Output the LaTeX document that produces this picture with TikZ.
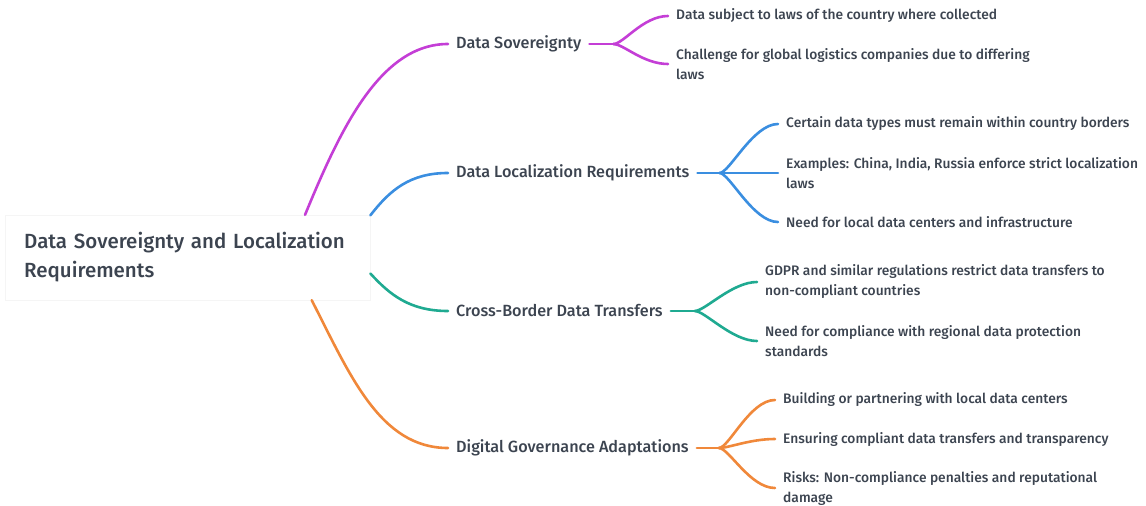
\documentclass[tikz,border=0pt]{standalone}
\usepackage{fontspec}
\setmainfont{Fira Sans}[UprightFont={* Medium}]
\definecolor{txt}{HTML}{3C4450}
\definecolor{cSov}{HTML}{C43ED6}
\definecolor{cLoc}{HTML}{3A8EE0}
\definecolor{cCross}{HTML}{1FAA91}
\definecolor{cDig}{HTML}{F0883A}
\tikzset{
  branch/.style={anchor=west, inner xsep=8pt, inner ysep=0pt, text=txt, font=\fontsize{16.2}{18}\selectfont},
  leaf/.style={anchor=west, inner xsep=8pt, inner ysep=0pt, text=txt, align=left, font=\fontsize{13.8}{20}\selectfont},
  link/.style={line width=2.6pt, line cap=round}
}

\begin{document}
\begin{tikzpicture}[x=1pt,y=-1pt]
  \useasboundingbox (0,0) rectangle (1146,506);
  % root
  \node[draw=gray!8, fill=white, anchor=west, inner xsep=19pt, text width=327pt,
        minimum height=85pt, align=left, text=txt,
        font=\fontsize{20.5}{29}\selectfont] (root) at (5,257.5)
        {Data Sovereignty and Localization\\Requirements};
  % main branches
  \node[branch] (sov) at (448,44) {Data Sovereignty};
  \node[branch] (loc) at (448,173) {Data Localization Requirements};
  \node[branch] (cross) at (448,311) {Cross-Border Data Transfers};
  \node[branch] (dig) at (448,448) {Digital Governance Adaptations};
  \draw[link,cSov] (root.20) .. controls (340,130) and (380,44) .. (sov.west);
  \draw[link,cLoc] (root.13) .. controls (390,190) and (410,173) .. (loc.west);
  \draw[link,cCross] (root.-5) .. controls (390,295) and (410,311) .. (cross.west);
  \draw[link,cDig] (root.-19) .. controls (350,375) and (380,448) .. (dig.west);
  % forks
  \coordinate (sovfork) at ([xshift=24pt]sov.east);
  \coordinate (locfork) at ([xshift=22pt]loc.east);
  \coordinate (crossfork) at ([xshift=24pt]cross.east);
  \coordinate (digfork) at ([xshift=22pt]dig.east);
  \draw[link,cSov] (sov.east) -- (sovfork);
  \draw[link,cLoc] (loc.east) -- (locfork);
  \draw[link,cCross] (cross.east) -- (crossfork);
  \draw[link,cDig] (dig.east) -- (digfork);
  % leaves
  \foreach \n/\y/\t in {sovA/16/{Data subject to laws of the country where collected},
                        sovB/64/{Challenge for global logistics companies due to differing\\laws}}
    {\node[leaf] (\n) at (668,\y) {\t};
     \draw[link,cSov] (sovfork) .. controls +(10,0) and +(-25,0) .. (\n.west);}
  \foreach \n/\y/\t in {locA/124/{Certain data types must remain within country borders},
                        locB/173/{Examples: China, India, Russia enforce strict localization\\laws},
                        locC/222/{Need for local data centers and infrastructure}}
    {\node[leaf] (\n) at (778,\y) {\t};
     \draw[link,cLoc] (locfork) .. controls +(10,0) and +(-25,0) .. (\n.west);}
  \foreach \n/\y/\t in {crossA/282/{GDPR and similar regulations restrict data transfers to\\non-compliant countries},
                        crossB/341/{Need for compliance with regional data protection\\standards}}
    {\node[leaf] (\n) at (757,\y) {\t};
     \draw[link,cCross] (crossfork) .. controls +(10,0) and +(-25,0) .. (\n.west);}
  \foreach \n/\y/\t in {digA/400/{Building or partnering with local data centers},
                        digB/439/{Ensuring compliant data transfers and transparency},
                        digC/488/{Risks: Non-compliance penalties and reputational\\damage}}
    {\node[leaf] (\n) at (775,\y) {\t};
     \draw[link,cDig] (digfork) .. controls +(10,0) and +(-25,0) .. (\n.west);}
\end{tikzpicture}
\end{document}
